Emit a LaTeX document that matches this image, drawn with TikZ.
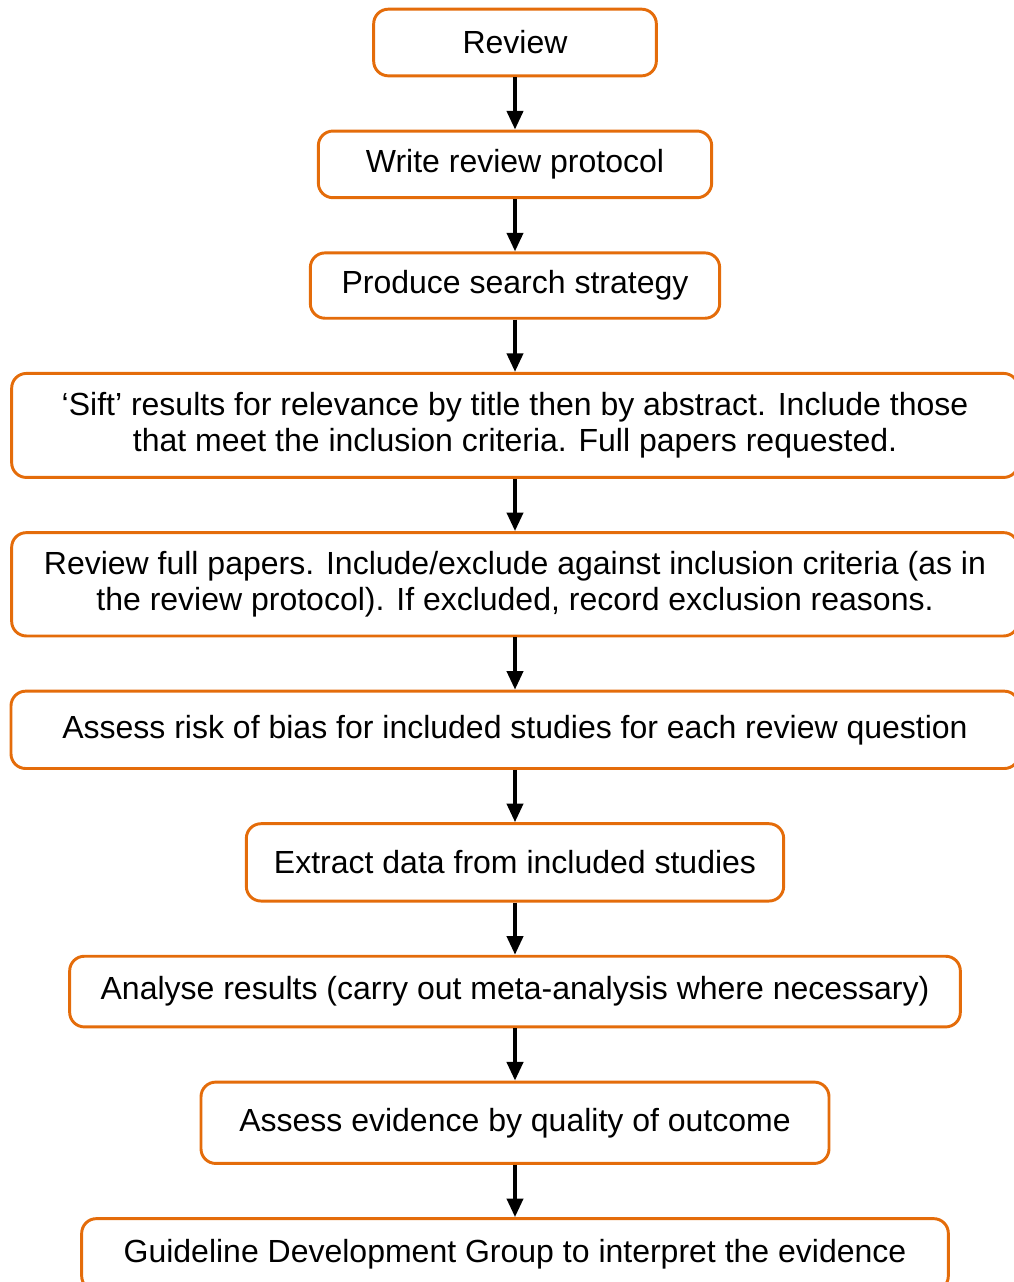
\documentclass[tikz,border=0pt]{standalone}
\usepackage{fontspec}
\setmainfont{Liberation Sans}
\usetikzlibrary{positioning,arrows.meta}

\definecolor{boxorange}{RGB}{228,108,10}
\tikzset{
  stage/.style={draw=boxorange, line width=2.2pt, rounded corners=11pt, align=center,
    inner sep=0pt, font=\fontsize{24}{27}\selectfont},
  flow/.style={-{Triangle[length=14pt,width=12pt]}, line width=3pt}
}

\begin{document}
\begin{tikzpicture}[x=0.75pt,y=-0.75pt,node distance=39.2pt]
  \clip (0,0) rectangle (1014,1282);
  \node[stage, minimum width=212pt, minimum height=50pt] (review) at (515,42.5) {Review};
  \node[stage, minimum width=295pt, minimum height=50pt, below=of review] (protocol) {Write review protocol};
  \node[stage, minimum width=307pt, minimum height=49pt, below=of protocol] (search) {Produce search strategy};
  \node[stage, minimum width=755pt, minimum height=78pt, below=of search] (sift)
    {`Sift' results for relevance by title then by abstract. Include those\\
     that meet the inclusion criteria. Full papers requested.};
  \node[stage, minimum width=755pt, minimum height=77.5pt, below=of sift] (full)
    {Review full papers. Include/exclude against inclusion criteria (as in\\
     the review protocol). If excluded, record exclusion reasons.};
  \node[stage, minimum width=756pt, minimum height=58pt, below=of full] (bias)
    {Assess risk of bias for included studies for each review question};
  \node[stage, minimum width=403pt, minimum height=58pt, below=of bias] (extract)
    {Extract data from included studies};
  \node[stage, minimum width=668pt, minimum height=53pt, below=of extract] (analyse)
    {Analyse results (carry out meta-analysis where necessary)};
  \node[stage, minimum width=471pt, minimum height=61pt, below=of analyse] (quality)
    {Assess evidence by quality of outcome};
  \node[stage, minimum width=650pt, minimum height=54pt, below=of quality] (gdg)
    {Guideline Development Group to interpret the evidence};

  % arrows between the stages
  \foreach \a/\b in {review/protocol, protocol/search, search/sift, sift/full, full/bias,
                     bias/extract, extract/analyse, analyse/quality, quality/gdg}
    \draw[flow] (\a) -- (\b);
\end{tikzpicture}
\end{document}
